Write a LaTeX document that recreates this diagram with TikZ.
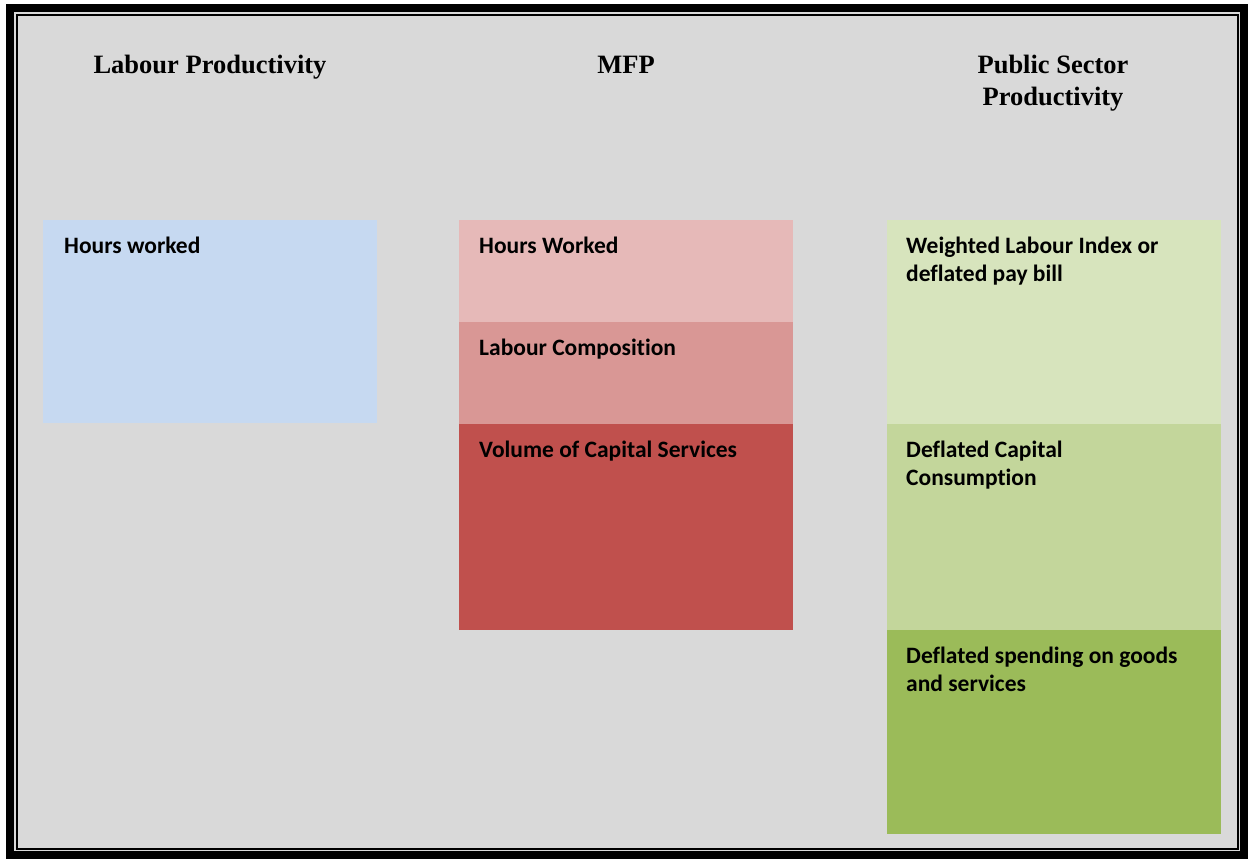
\documentclass[tikz,border=0pt]{standalone}
\usepackage{fontspec}
\setmainfont{Liberation Serif}
\newfontfamily\cellfont[Ligatures={NoCommon,NoDiscretionary}]{Carlito}
\usepackage{xcolor}
\usepackage{tikz}

\definecolor{panelgray}{HTML}{D9D9D9}
\definecolor{lpblue}{HTML}{C6D9F1}
\definecolor{mfpone}{HTML}{E6B9B8}
\definecolor{mfptwo}{HTML}{D99795}
\definecolor{mfpthree}{HTML}{C0504D}
\definecolor{psone}{HTML}{D7E4BD}
\definecolor{pstwo}{HTML}{C3D69B}
\definecolor{psthree}{HTML}{9BBB59}

\begin{document}
\begin{tikzpicture}[x=1pt, y=-1pt,
		cell/.style={anchor=north west, inner sep=0pt, minimum width=334pt},
		celltext/.style={anchor=base west, inner sep=0pt, align=left,
			font=\cellfont\bfseries\fontsize{23.5}{28}\selectfont},
		heading/.style={anchor=base, inner sep=0pt, align=center,
			font=\bfseries\fontsize{26.5}{32}\selectfont}]
		\useasboundingbox (0,0) rectangle (1249,860);
		\fill[white] (0,0) rectangle (1249,860);
		\fill[panelgray] (10,8) rectangle (1244,855);
		\draw[line width=8pt] (10,8) rectangle (1244,855);
		\draw[line width=2pt] (17,15) rectangle (1238,849);
		% headings (base anchor = last line)
		\node[heading] (lphead) at (210,73) {Labour Productivity};
		\node[heading] (mfphead) at (626,73) {MFP};
		\node[heading] (pshead) at (1053,105) {Public Sector\\Productivity};
		% labour productivity
		\node[cell, fill=lpblue, minimum height=203pt] (lphours) at (43,220) {};
		\node[celltext] (lphourstext) at ([shift={(21,33)}]lphours.north west) {Hours worked};
		% MFP
		\node[cell, fill=mfpone, minimum height=102pt] (mfphours) at (459,220) {};
		\node[cell, fill=mfptwo, minimum height=102pt] (mfpcomp) at (459,322) {};
		\node[cell, fill=mfpthree, minimum height=206pt] (mfpcap) at (459,424) {};
		\node[celltext] (mfphourstext) at ([shift={(20,33)}]mfphours.north west) {Hours Worked};
		\node[celltext] (mfpcomptext) at ([shift={(20,33)}]mfpcomp.north west) {Labour Composition};
		\node[celltext] (mfpcaptext) at ([shift={(20,33)}]mfpcap.north west) {Volume of Capital Services};
		% public sector
		\node[cell, fill=psone, minimum height=204pt] (pslabour) at (887,220) {};
		\node[cell, fill=pstwo, minimum height=206pt] (pscap) at (887,424) {};
		\node[cell, fill=psthree, minimum height=204pt] (psgoods) at (887,630) {};
		\node[celltext] (pslabourtext) at ([shift={(19,61)}]pslabour.north west) {Weighted Labour Index or\\deflated pay bill};
		\node[celltext] (pscaptext) at ([shift={(19,61)}]pscap.north west) {Deflated Capital\\Consumption};
		\node[celltext] (psgoodstext) at ([shift={(19,61)}]psgoods.north west) {Deflated spending on goods\\and services};
	\end{tikzpicture}
\end{document}
